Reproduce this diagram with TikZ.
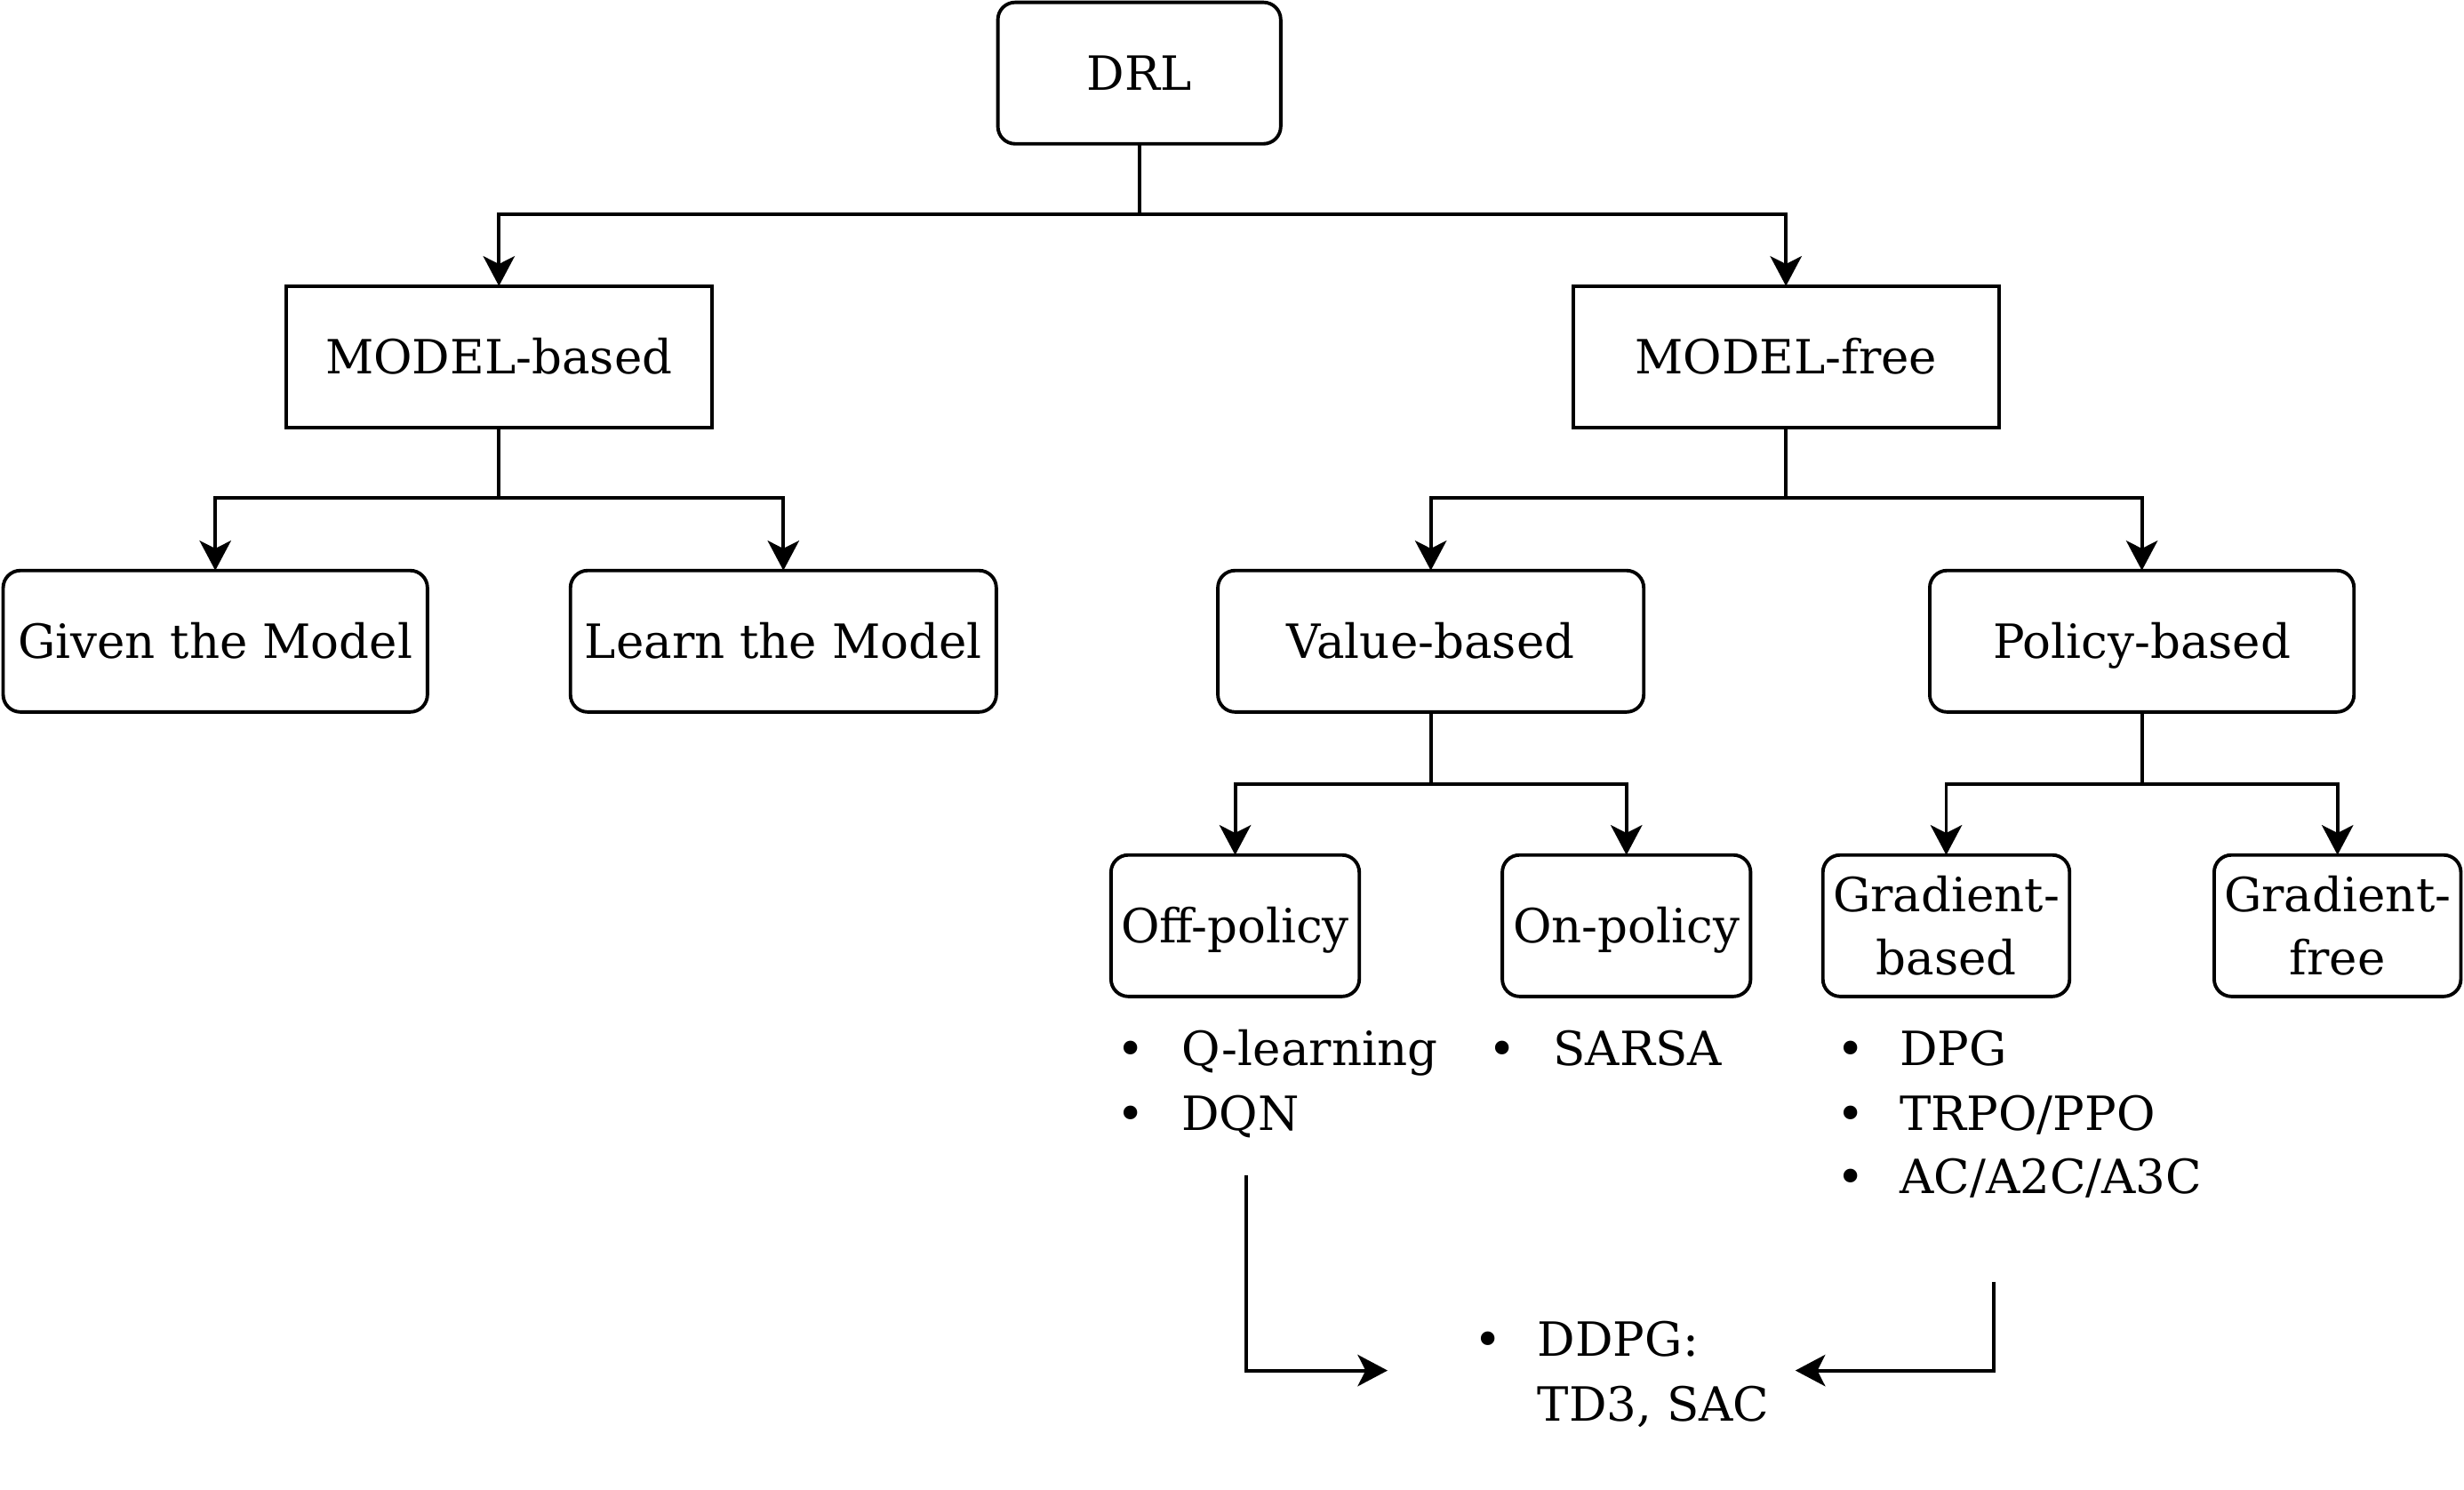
\documentclass[tikz,border=0pt]{standalone}
\usepackage{fontspec}
\setmainfont{DejaVu Serif}
\usetikzlibrary{arrows.meta}
\tikzset{
  every node/.style={font=\fontsize{30}{40}\selectfont, inner sep=0pt, outer sep=0pt},
  onel/.style={text height=22pt, text depth=0pt},
  rbox/.style={draw, line width=2.2pt, rounded corners=11pt, minimum height=90pt, align=center},
  sbox/.style={draw, line width=2.2pt, minimum height=90pt, align=center},
  arr/.style={line width=2.2pt, -{Stealth[length=19pt, width=20pt, inset=5pt]}},
  itemtxt/.style={anchor=base west},
  bul/.style={anchor=base},
}
\begin{document}
\begin{tikzpicture}[x=1pt,y=-1pt]
\useasboundingbox (0,0) rectangle (1568,948);
% boxes
\node[rbox, onel, minimum width=180pt] (drl) at (725,46.5) {DRL};
\node[sbox, onel, minimum width=271pt] (mb) at (317.5,227) {MODEL-based};
\node[sbox, onel, minimum width=271pt] (mf) at (1136.5,227) {MODEL-free};
\node[rbox, onel, minimum width=270pt] (given) at (137,408) {Given the Model};
\node[rbox, onel, minimum width=271pt] (learn) at (498.5,408) {Learn the Model};
\node[rbox, onel, minimum width=271pt] (value) at (910.5,408) {Value-based};
\node[rbox, onel, minimum width=270pt] (policy) at (1363,408) {Policy-based};
\node[rbox, onel, minimum width=158pt] (off) at (786,589) {Off-policy};
\node[rbox, onel, minimum width=158pt] (on) at (1035,589) {On-policy};
\node[rbox, minimum width=157pt] (gb) at (1238.5,589) {Gradient-\\based};
\node[rbox, minimum width=157pt] (gf) at (1487.5,589) {Gradient-\\free};
% tree connectors
\draw[arr] (drl.south) -- ++(0,45) -| (mb.north);
\draw[arr] (drl.south) -- ++(0,45) -| (mf.north);
\draw[arr] (mb.south) -- ++(0,45) -| (given.north);
\draw[arr] (mb.south) -- ++(0,45) -| (learn.north);
\draw[arr] (mf.south) -- ++(0,45) -| (value.north);
\draw[arr] (mf.south) -- ++(0,45) -| (policy.north);
\draw[arr] (value.south) -- ++(0,46) -| (off.north);
\draw[arr] (value.south) -- ++(0,46) -| (on.north);
\draw[arr] (policy.south) -- ++(0,46) -| (gb.north);
\draw[arr] (policy.south) -- ++(0,46) -| (gf.north);
% lists
\node[bul] (b1) at (719.5,678) {•};
\node[itemtxt] (t1) at (752,678) {Q-learning};
\node[bul] (b2) at (719.5,719) {•};
\node[itemtxt] (t2) at (752,719) {DQN};
\node[bul] (b3) at (956,678) {•};
\node[itemtxt] (t3) at (988.5,678) {SARSA};
\node[bul] (b4) at (1177.5,678) {•};
\node[itemtxt] (t4) at (1209,678) {DPG};
\node[bul] (b5) at (1177.5,719) {•};
\node[itemtxt] (t5) at (1209,719) {TRPO/PPO};
\node[bul] (b6) at (1177.5,759.5) {•};
\node[itemtxt] (t6) at (1209,759.5) {AC/A2C/A3C};
\node[bul] (b7) at (947,863) {•};
\node[itemtxt] (t7) at (978.5,863) {DDPG:};
\node[itemtxt] (t8) at (978.5,904) {TD3, SAC};
% merge connectors
\coordinate (ls) at (793,748);
\coordinate (le) at (883,872);
\coordinate (rs) at (1268.5,815.5);
\coordinate (re) at (1142.5,872);
\draw[arr] (ls) |- (le);
\draw[arr] (rs) |- (re);
\end{tikzpicture}
\end{document}
